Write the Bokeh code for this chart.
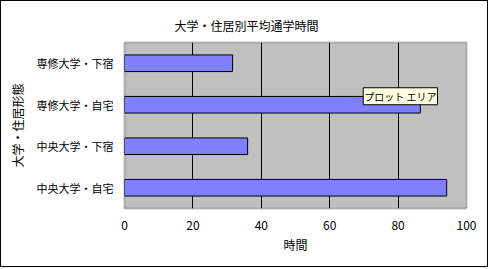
from bokeh.plotting import figure
from bokeh.models import FactorRange, Range1d, Label, FixedTicker
from bokeh.embed import file_html
from bokeh.resources import INLINE

title = "大学・住居別平均通学時間"
categories = ["中央大学・自宅", "中央大学・下宿", "専修大学・自宅", "専修大学・下宿"]
hours = [94.2, 36.0, 86.5, 31.6]
x_ticks = [0, 20, 40, 60, 80, 100]
x_label = "時間"
y_label = "大学・住居形態"
tooltip_text = "プロット エリア"

FONT = "Noto Sans CJK JP"

p = figure(width=488, height=267, output_backend="svg", toolbar_location=None,
           y_range=FactorRange(factors=categories, range_padding=0),
           x_range=Range1d(0, 100),
           min_border_left=123, min_border_right=23, min_border_top=41, min_border_bottom=60,
           styles={"border": "1px solid black"})

p.title.text = title
p.title.align = "left"
p.title.offset = 50
p.title.text_font = FONT
p.title.text_font_size = "12px"
p.title.text_font_style = "normal"
p.title.text_color = "black"
p.title.vertical_align = "top"
p.title.standoff = 14

p.hbar(y=categories, right=hours, left=0, height=0.4,
       fill_color="#8080FF", line_color="black", line_width=1)

p.background_fill_color = "#C0C0C0"
p.border_fill_color = "white"
p.outline_line_color = "#808080"
p.outline_line_dash = "1 1"
p.outline_line_width = 2

p.xgrid.ticker = FixedTicker(ticks=x_ticks)
p.xgrid.grid_line_color = "black"
p.xgrid.grid_line_width = 1
p.ygrid.grid_line_color = None

p.xaxis.ticker = FixedTicker(ticks=x_ticks)
p.xaxis.axis_line_color = None
p.xaxis.major_tick_line_color = None
p.xaxis.minor_tick_line_color = None
p.xaxis.major_label_standoff = 6
p.xaxis.major_label_text_font = FONT
p.xaxis.major_label_text_font_size = "12px"
p.xaxis.major_label_text_color = "black"
p.xaxis.axis_label = x_label
p.xaxis.axis_label_text_font = FONT
p.xaxis.axis_label_text_font_size = "12px"
p.xaxis.axis_label_text_font_style = "normal"
p.xaxis.axis_label_text_color = "black"
p.xaxis.axis_label_standoff = 3

p.yaxis.axis_line_color = None
p.yaxis.major_tick_line_color = None
p.yaxis.major_tick_out = 0
p.yaxis.major_label_standoff = 11
p.yaxis.major_label_text_font = FONT
p.yaxis.major_label_text_font_size = "11px"
p.yaxis.major_label_text_color = "black"
p.yaxis.axis_label = y_label
p.yaxis.axis_label_text_font = FONT
p.yaxis.axis_label_text_font_size = "12px"
p.yaxis.axis_label_text_font_style = "normal"
p.yaxis.axis_label_text_color = "black"
p.yaxis.axis_label_standoff = 8

tip = Label(x=69.8, y=2.5, text=tooltip_text, text_font=FONT, text_font_size="10px",
            text_color="black",
            background_fill_color="#FFFFE1", border_line_color="black",
            text_baseline="bottom", text_align="left", padding=1)
p.add_layout(tip)

open("out.html", "w").write(file_html(p, INLINE))
